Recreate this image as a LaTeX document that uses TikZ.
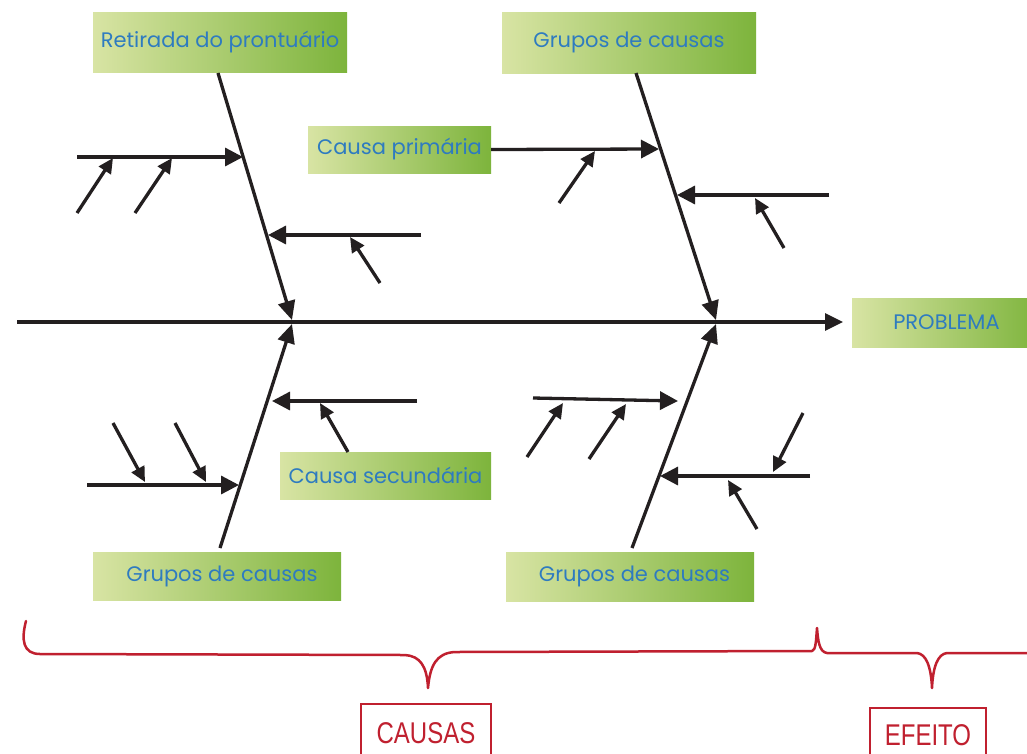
\documentclass[tikz,border=0pt]{standalone}
\usepackage{fontspec}
\setmainfont{Poppins}
\newfontfamily\labfont{Liberation Sans}
\usetikzlibrary{arrows.meta}
\definecolor{boxL}{HTML}{D8E4A4}
\definecolor{boxR}{HTML}{7DB43C}
\definecolor{txtblue}{HTML}{2E7BC0}
\definecolor{bracered}{HTML}{C0202F}
\definecolor{ink}{HTML}{231F20}
\tikzset{
  gbox/.style={rectangle, inner sep=0pt, left color=boxL, right color=boxR, draw=none,
    text=txtblue, font=\fontsize{21}{24}\selectfont},
  spine/.style={draw=ink, line width=3.3pt, -{Triangle[length=18pt,width=17pt]}},
  bone/.style={draw=ink, line width=3.3pt, -{Triangle[length=19pt,width=17pt]}},
  subarrow/.style={draw=ink, line width=3.3pt, -{Triangle[length=18pt,width=18pt]}},
  twig/.style={draw=ink, line width=3.3pt, -{Triangle[length=15pt,width=14pt]}},
  brace/.style={draw=bracered, line width=2.5pt, line join=round, line cap=round},
  tag/.style={rectangle, draw=bracered, line width=2pt, inner sep=0pt, text=bracered,
    font=\labfont\fontsize{30}{32}\selectfont}
}
\begin{document}
\begin{tikzpicture}[x=1pt,y=-1pt]
\fill[white] (0,0) rectangle (1027,753);
\useasboundingbox (0,0) rectangle (1027,753);

% boxes
\node[gbox, minimum width=254pt, minimum height=60pt] (ret) at (220,42) {Retirada do prontuário};
\node[gbox, minimum width=254pt, minimum height=61pt] (grp1) at (629,42.5) {Grupos de causas};
\node[gbox, minimum width=183pt, minimum height=47pt] (prim) at (399.5,149.5) {Causa primária};
\node[gbox, minimum width=189pt, minimum height=49pt] (prob) at (946.5,322.5) {PROBLEMA};
\node[gbox, minimum width=211pt, minimum height=47pt] (sec) at (385.5,475.5) {Causa secundária};
\node[gbox, minimum width=248pt, minimum height=48pt] (grp2) at (217,576) {\hspace{10pt}Grupos de causas};
\node[gbox, minimum width=248pt, minimum height=49pt] (grp3) at (630,576.5) {\hspace{9pt}Grupos de causas};

% spine
\coordinate (s0) at (17,322);
\coordinate (s1) at (843,322);
\draw[spine] (s0) -- (s1);

% main bones
\coordinate (b1a) at (218,73);  \coordinate (b1b) at (292,320);
\coordinate (b2a) at (636,73);  \coordinate (b2b) at (716,320);
\coordinate (b3a) at (220,548); \coordinate (b3b) at (292,324);
\coordinate (b4a) at (632,548); \coordinate (b4b) at (716,324);
\draw[bone] (b1a) -- (b1b);
\draw[bone] (b2a) -- (b2b);
\draw[bone] (b3a) -- (b3b);
\draw[bone] (b4a) -- (b4b);

% top-left bone branches
\coordinate (a1s) at (77,157);  \coordinate (a1e) at (243,157);
\draw[subarrow] (a1s) -- (a1e);
\coordinate (t1s) at (77,213);  \coordinate (t1e) at (113,158);
\coordinate (t2s) at (135,213); \coordinate (t2e) at (172,158);
\draw[twig] (t1s) -- (t1e);
\draw[twig] (t2s) -- (t2e);
\coordinate (a2s) at (421,235); \coordinate (a2e) at (268,235);
\draw[subarrow] (a2s) -- (a2e);
\coordinate (t3s) at (380,283); \coordinate (t3e) at (350,237);
\draw[twig] (t3s) -- (t3e);

% top-right bone branches
\coordinate (a3e) at (659,149);
\draw[subarrow] (prim.east) -- (a3e);
\coordinate (t4s) at (559,203); \coordinate (t4e) at (595,151);
\draw[twig] (t4s) -- (t4e);
\coordinate (a4s) at (829,195); \coordinate (a4e) at (677,195);
\draw[subarrow] (a4s) -- (a4e);
\coordinate (t5s) at (784,248); \coordinate (t5e) at (755,198);
\draw[twig] (t5s) -- (t5e);

% bottom-left bone branches
\coordinate (a5s) at (417,401); \coordinate (a5e) at (272,401);
\draw[subarrow] (a5s) -- (a5e);
\coordinate (t6s) at (348,452); \coordinate (t6e) at (320,403);
\draw[twig] (t6s) -- (t6e);
\coordinate (a6s) at (87,485);  \coordinate (a6e) at (239,485);
\draw[subarrow] (a6s) -- (a6e);
\coordinate (t7s) at (113,423); \coordinate (t7e) at (145,482);
\coordinate (t8s) at (175,423); \coordinate (t8e) at (206,482);
\draw[twig] (t7s) -- (t7e);
\draw[twig] (t8s) -- (t8e);

% bottom-right bone branches
\coordinate (a7s) at (533,398); \coordinate (a7e) at (678,401);
\draw[subarrow] (a7s) -- (a7e);
\coordinate (t9s) at (527,457);  \coordinate (t9e) at (563,403);
\coordinate (t10s) at (589,459); \coordinate (t10e) at (626,404);
\draw[twig] (t9s) -- (t9e);
\draw[twig] (t10s) -- (t10e);
\coordinate (a8s) at (810,476); \coordinate (a8e) at (660,476);
\draw[subarrow] (a8s) -- (a8e);
\coordinate (t11s) at (803,413); \coordinate (t11e) at (773,472);
\coordinate (t12s) at (757,529); \coordinate (t12e) at (728,480);
\draw[twig] (t11s) -- (t11e);
\draw[twig] (t12s) -- (t12e);

% braces
\draw[brace] (26,621) .. controls (21,640) and (23,654) .. (40,654)
  -- (405,655) .. controls (420,656) and (427,666) .. (428,688)
  .. controls (430,666) and (436,653) .. (455,652)
  -- (812,651) .. controls (816,650) and (816,640) .. (817,628)
  .. controls (818,640) and (819,652) .. (827,653)
  -- (917,653) .. controls (926,654) and (931,666) .. (932,688)
  .. controls (933,666) and (938,654) .. (947,653) -- (1030,653);

% tags
\node[tag, minimum width=130pt, minimum height=58pt] (causas) at (426,733) {\scalebox{0.8}[1]{CAUSAS}};
\node[tag, minimum width=116pt, minimum height=54pt] (efeito) at (928,735) {\scalebox{0.8}[1]{EFEITO}};
\end{tikzpicture}
\end{document}
